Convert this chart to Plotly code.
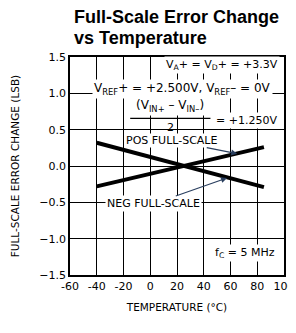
import plotly.graph_objects as go

# Data
temp = [-40, 85]
pos_fs = [-0.28, 0.26]
neg_fs = [0.32, -0.29]

x_ticks = [-60, -40, -20, 0, 20, 40, 60, 80, 100]
y_ticks = [-1.5, -1.0, -0.5, 0.0, 0.5, 1.0, 1.5]

FONT = "DejaVu Sans, Liberation Sans, Arial"

fig = go.Figure()
fig.add_trace(go.Scatter(x=temp, y=pos_fs, mode="lines",
                         line=dict(color="black", width=4), showlegend=False))
fig.add_trace(go.Scatter(x=temp, y=neg_fs, mode="lines",
                         line=dict(color="black", width=4), showlegend=False))

ann_font = dict(family=FONT, size=11, color="black")
ann_font_l = dict(family=FONT, size=12, color="black")

fig.add_annotation(x=97, y=1.39, xref="x", yref="y", xanchor="right",
                   text="V<sub>A</sub>+ = V<sub>D</sub>+ = +3.3V",
                   showarrow=False, bgcolor="white", font=ann_font, borderpad=1)
fig.add_annotation(x=92, y=1.06, xref="x", yref="y", xanchor="right",
                   text="V<sub>REF</sub>+ = +2.500V, V<sub>REF</sub>– = 0V",
                   showarrow=False, bgcolor="white", font=ann_font_l, borderpad=1)
fig.add_annotation(x=15, y=0.82, xref="x", yref="y",
                   text="(V<sub>IN+</sub> – V<sub>IN–</sub>)",
                   showarrow=False, bgcolor="white", font=ann_font_l, borderpad=1)
fig.add_annotation(x=72, y=0.63, xref="x", yref="y",
                   text="= +1.250V", showarrow=False, bgcolor="white", font=ann_font, borderpad=1)
fig.add_shape(type="line", x0=-15, x1=45, y0=0.655, y1=0.655, xref="x", yref="y",
              line=dict(color="black", width=1.2))

fig.add_annotation(x=65, y=0.17, xref="x", yref="y", ax=-66, ay=-13,
                   text="POS FULL-SCALE", showarrow=True, arrowhead=2, arrowsize=1,
                   arrowwidth=1.2, bgcolor="white", font=ann_font, borderpad=0)
fig.add_annotation(x=15, y=0.535, xref="x", yref="y",
                   text="2", showarrow=False, font=ann_font, borderpad=0)
fig.add_annotation(x=57.4, y=-0.165, xref="x", yref="y", ax=-74, ay=26,
                   text="NEG FULL-SCALE", showarrow=True, arrowhead=2, arrowsize=1,
                   arrowwidth=1.2, bgcolor="white", font=ann_font, borderpad=1)
fig.add_annotation(x=71, y=-1.2, xref="x", yref="y",
                   text="f<sub>C</sub> = 5 MHz", showarrow=False, bgcolor="white",
                   font=ann_font, borderpad=1)

# Title (two lines, left aligned)
title_font = dict(family="Liberation Sans, Arial", size=18, color="black")
fig.add_annotation(x=2/214, y=1 + 40/218, xref="paper", yref="paper", xanchor="left",
                   yanchor="middle", text="<b>Full-Scale Error Change</b>",
                   showarrow=False, font=title_font)
fig.add_annotation(x=2/214, y=1 + 19/218, xref="paper", yref="paper", xanchor="left",
                   yanchor="middle", text="<b>vs Temperature</b>",
                   showarrow=False, font=title_font)

# page body has an 8px margin, so the figure is sized to the visible area
fig.update_layout(
    width=288, height=325,
    margin=dict(l=62, r=12, t=49, b=58, autoexpand=False),
    paper_bgcolor="white", plot_bgcolor="white",
    font=dict(family=FONT, color="black"),
)
fig.update_xaxes(range=[-60, 100], tickvals=x_ticks, ticktext=[str(v) for v in x_ticks],
                 showgrid=True, gridcolor="black", gridwidth=1,
                 showline=True, linecolor="black", linewidth=1.5, mirror=True,
                 zeroline=False, ticks="", tickfont=dict(family=FONT, size=11),
                 automargin=False,
                 title=dict(text="TEMPERATURE (°C)", font=dict(family=FONT, size=10.5), standoff=12))
fig.update_yaxes(range=[-1.5, 1.5], tickvals=y_ticks,
                 ticktext=[f"{v:.1f}".replace("-", "−") for v in y_ticks],
                 showgrid=True, gridcolor="black", gridwidth=1,
                 showline=True, linecolor="black", linewidth=1.5, mirror=True,
                 zeroline=False, ticks="", tickfont=dict(family=FONT, size=11),
                 automargin=False,
                 title=dict(text="FULL-SCALE ERROR CHANGE (LSB)", font=dict(family=FONT, size=10.5), standoff=18))

fig.write_html("out.html")
